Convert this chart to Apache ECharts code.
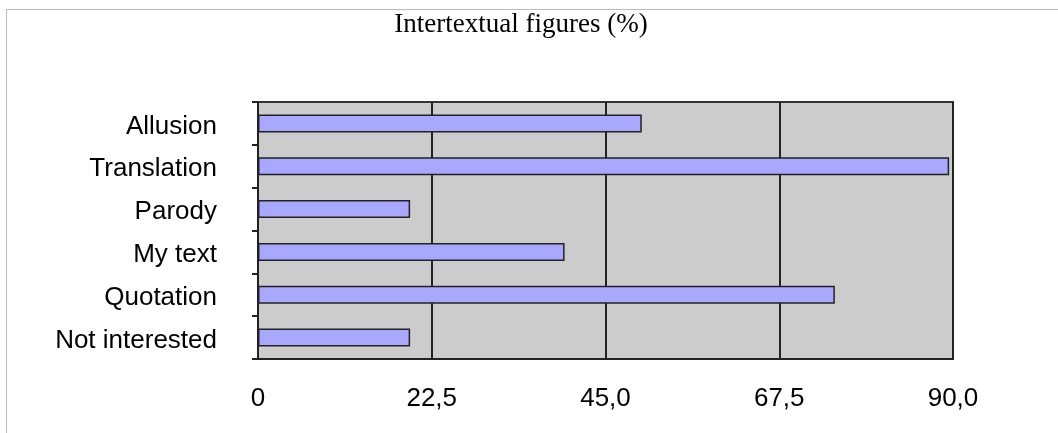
<!DOCTYPE html>
<html>
<head>
<meta charset="utf-8">
<script src="https://cdn.jsdelivr.net/npm/echarts@6/dist/echarts.min.js"></script>
<style>html,body{margin:0;padding:0;background:#fff;}#chart{width:1058px;height:433px;}</style>
</head>
<body>
<div id="chart"></div>
<script>
const categories = ["Allusion", "Translation", "Parody", "My text", "Quotation", "Not interested"];
const values = [49.7, 89.5, 19.7, 39.7, 74.7, 19.7];
const xTicks = [0, 22.5, 45, 67.5, 90];
const titleText = "Intertextual figures (%)";

const chart = echarts.init(document.getElementById('chart'));
chart.setOption({
  animation: false,
  backgroundColor: '#fff',
  title: {
    text: titleText,
    left: 516, textAlign: 'center', top: 6,
    textStyle: { fontFamily: 'Liberation Serif', fontSize: 27, fontWeight: 'normal', color: '#000' }
  },
  graphic: [
    { type: 'line', shape: { x1: 6, y1: 9.5, x2: 1058, y2: 9.5 }, style: { stroke: '#bbb', lineWidth: 1 } },
    { type: 'line', shape: { x1: 6.5, y1: 9, x2: 6.5, y2: 433 }, style: { stroke: '#bbb', lineWidth: 1 } }
  ],
  grid: {
    left: 258, right: 105, top: 102, bottom: 74,
    show: true, backgroundColor: '#cccccc', borderColor: '#333', borderWidth: 2
  },
  xAxis: {
    type: 'value', min: 0, max: 90, interval: 22.5,
    axisLine: { show: true, lineStyle: { color: '#222', width: 2 } },
    axisTick: { show: false },
    splitLine: { show: true, lineStyle: { color: '#222', width: 2 } },
    axisLabel: {
      fontFamily: 'Liberation Sans', fontSize: 26, color: '#000', margin: 27,
      formatter: v => xTicks.indexOf(v) === 0 ? '0' : v.toFixed(1).replace('.', ',')
    }
  },
  yAxis: {
    type: 'category', data: categories, inverse: true,
    axisLine: { show: true, lineStyle: { color: '#222', width: 2 } },
    axisTick: { show: true, length: 6, alignWithLabel: false, lineStyle: { color: '#222', width: 2 } },
    splitLine: { show: false },
    axisLabel: {
      margin: 41,
      formatter: v => '{a|' + v + '}',
      rich: { a: { fontFamily: 'Liberation Sans', fontSize: 26, color: '#000', padding: [6, 0, 0, 0] } }
    }
  },
  series: [{
    type: 'bar', data: values, barWidth: '42%',
    itemStyle: { color: '#a8a8ff', borderColor: '#222', borderWidth: 1.5 }
  }]
});
</script>
</body>
</html>
